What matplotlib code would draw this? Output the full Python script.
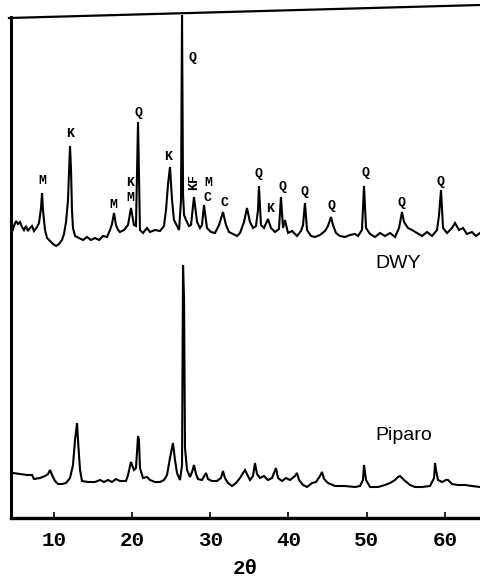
import matplotlib
matplotlib.use("Agg")
import matplotlib.pyplot as plt
from matplotlib.lines import Line2D

# ---- data (2-theta in degrees, intensity in arbitrary units) ----
dwy_2theta = [4.63, 4.88, 5.14, 5.40, 5.65, 5.91, 6.16, 6.42, 6.67, 6.93, 7.19, 7.44, 7.83, 8.08,
              8.34, 8.47, 8.59, 8.85, 9.11, 9.49, 9.88, 10.26, 10.64, 11.02, 11.28, 11.54, 11.79,
              12.05, 12.18, 12.30, 12.43, 12.69, 13.20, 13.71, 14.22, 14.73, 15.25, 15.76, 16.27,
              16.78, 17.17, 17.42, 17.68, 17.93, 18.19, 18.44, 18.96, 19.47, 19.85, 20.23, 20.49,
              20.75, 21.00, 21.39, 21.90, 22.28, 22.92, 23.56, 24.07, 24.33, 24.58, 24.84, 25.10,
              25.35, 25.74, 26.00, 26.25, 26.38, 26.51, 26.64, 26.89, 27.27, 27.53, 27.91, 28.30,
              28.68, 28.93, 29.19, 29.57, 30.09, 30.60, 31.11, 31.62, 32.00, 32.39, 32.90, 33.41,
              33.80, 34.31, 34.69, 35.07, 35.46, 35.84, 36.10, 36.22, 36.35, 36.48, 36.86, 37.38,
              37.76, 38.27, 38.78, 39.04, 39.30, 39.55, 39.94, 40.45, 41.09, 41.60, 41.86, 42.11,
              42.37, 42.88, 43.39, 44.03, 44.67, 45.05, 45.44, 45.69, 46.08, 46.59, 47.23, 47.87,
              48.51, 48.89, 49.40, 49.66, 49.92, 50.43, 51.07, 51.71, 52.35, 52.99, 53.63, 54.14,
              54.52, 54.78, 55.29, 55.80, 56.44, 57.08, 57.72, 58.36, 59.00, 59.26, 59.51, 59.77,
              60.28, 60.92, 61.30, 61.81, 62.32, 62.83, 63.47, 63.98, 64.50]
dwy_int = [286, 292, 297, 294, 296, 291, 288, 292, 287, 290, 292, 287, 291, 295,
           310, 325, 308, 288, 280, 277, 274, 272, 274, 278, 284, 296, 318,
           372, 348, 308, 290, 282, 280, 278, 281, 278, 280, 278, 282,
           281, 288, 294, 305, 293, 288, 286, 288, 293, 310, 293, 292,
           396, 288, 285, 290, 286, 288, 287, 292, 308, 333, 351, 318,
           298, 292, 288, 318, 503, 323, 303, 298, 292, 293, 321, 296,
           290, 293, 313, 290, 286, 285, 293, 306, 293, 286, 284, 282,
           285, 296, 310, 296, 290, 292, 308, 332, 313, 293, 290, 299,
           290, 286, 289, 321, 290, 298, 285, 287, 282, 287, 293, 315,
           288, 282, 281, 283, 287, 292, 301, 293, 285, 282, 281, 283,
           284, 282, 288, 332, 290, 284, 281, 285, 282, 285, 281, 290,
           306, 296, 290, 288, 285, 282, 286, 282, 288, 303, 328, 290,
           285, 290, 295, 288, 290, 284, 286, 282, 285]

piparo_2theta = [4.76, 5.65, 6.55, 7.19, 7.44, 8.21, 8.85, 9.24, 9.49, 9.75, 10.13, 10.52, 11.02,
                 11.54, 12.05, 12.43, 12.69, 12.95, 13.07, 13.33, 13.58, 14.35, 15.25, 15.89,
                 16.40, 16.91, 17.42, 17.93, 18.44, 19.21, 19.47, 19.85, 20.23, 20.49, 20.75,
                 20.87, 21.00, 21.39, 21.90, 22.28, 22.92, 23.56, 24.07, 24.46, 24.84, 25.22,
                 25.48, 25.74, 26.12, 26.38, 26.51, 26.64, 26.76, 27.02, 27.40, 27.66, 27.91,
                 28.17, 28.42, 28.93, 29.45, 29.70, 30.21, 30.85, 31.36, 31.62, 31.87, 32.26,
                 32.77, 33.28, 33.80, 34.43, 34.82, 35.07, 35.46, 35.71, 35.97, 36.35, 36.86,
                 37.38, 37.89, 38.40, 38.66, 39.17, 39.68, 40.19, 40.83, 41.09, 41.35, 41.86,
                 42.37, 43.01, 43.52, 44.03, 44.29, 44.55, 45.05, 45.95, 47.23, 48.51, 49.15,
                 49.53, 49.66, 49.92, 50.43, 51.45, 52.35, 52.99, 53.63, 54.01, 54.27, 54.78,
                 55.55, 56.19, 57.08, 58.11, 58.62, 58.75, 58.87, 59.13, 59.64, 60.15, 60.41,
                 60.92, 61.68, 62.58, 63.47, 64.50]
piparo_int = [45, 44, 43, 43, 39, 40, 42, 44, 48, 43, 37, 34, 34,
              35, 40, 53, 78, 95, 78, 48, 37, 36, 36, 38,
              36, 38, 36, 39, 37, 37, 43, 56, 48, 50, 82,
              78, 50, 40, 41, 38, 36, 36, 38, 43, 60, 75,
              58, 45, 38, 53, 253, 218, 70, 48, 41, 46, 53,
              44, 39, 38, 45, 39, 37, 37, 40, 47, 40, 35,
              32, 35, 40, 48, 42, 38, 42, 55, 44, 40, 42,
              38, 40, 50, 40, 37, 40, 38, 42, 45, 38, 33,
              31, 35, 36, 42, 46, 39, 35, 32, 32, 31, 32,
              38, 53, 38, 31, 31, 33, 35, 38, 41, 42, 38,
              33, 31, 31, 32, 40, 55, 48, 38, 36, 38, 38,
              34, 33, 33, 32, 31]

# phase labels on DWY pattern: (label, 2theta, intensity, rotation)
phase_labels = [("M", 8.47, 337, 0), ("K", 12.05, 384, 0), ("M", 17.55, 313, 0),
                ("K", 19.72, 335, 0), ("M", 19.72, 320, 0), ("Q", 20.75, 405, 0),
                ("K", 24.58, 361, 0), ("Q", 27.66, 460, 0), ("KF", 27.91, 336, 90),
                ("M", 29.70, 335, 0), ("C", 29.70, 320, 0), ("C", 31.75, 315, 0),
                ("Q", 36.22, 344, 0), ("K", 37.63, 309, 0), ("Q", 39.17, 331, 0),
                ("Q", 42.11, 326, 0), ("Q", 45.44, 312, 0), ("Q", 49.79, 345, 0),
                ("Q", 54.52, 315, 0), ("Q", 59.51, 336, 0)]

sample_names = [("DWY", 54.0, 255), ("Piparo", 54.8, 82)]
xticks = [10, 20, 30, 40, 50, 60]
xlabel = "2θ"

# ---- figure ----
W, H = 480, 585
fig = plt.figure(figsize=(W / 100, H / 100), dpi=100)
ax = fig.add_axes([11 / W, 67 / H, 469 / W, 501 / H])
ax.set_xlim(4.5, 64.5)
ax.set_ylim(0, 501)

ax.plot(dwy_2theta, dwy_int, color="black", lw=1.5, clip_on=False, solid_joinstyle="miter")
ax.plot(piparo_2theta, piparo_int, color="black", lw=1.5, solid_joinstyle="miter")

for s, x, y, rot in phase_labels:
    ax.text(x, y, s, ha="center", va="center", rotation=rot,
            fontfamily="Liberation Mono", fontweight="bold", fontsize=9.5)

for s, x, y in sample_names:
    ax.text(x, y, s, ha="center", va="center", fontfamily="Liberation Sans", fontsize=14)

ax.spines["top"].set_visible(False)
ax.spines["right"].set_visible(False)
ax.spines["left"].set_linewidth(2.2)
ax.spines["bottom"].set_linewidth(2.4)
ax.set_yticks([])
ax.set_xticks(xticks)
ax.set_xticklabels([str(t) for t in xticks], fontfamily="Liberation Mono",
                   fontweight="bold", fontsize=15)
ax.tick_params(axis="x", direction="in", length=4, width=1.2, pad=9)

# slightly slanted top frame line (as in the scanned original)
fig.add_artist(Line2D([9 / W, 1.0], [1 - 18 / H, 1 - 5 / H], transform=fig.transFigure,
                      color="black", lw=1.6))

fig.text(245 / W, 1 - 568 / H, xlabel, ha="center", va="center",
         fontfamily="Liberation Mono", fontweight="bold", fontsize=15)

fig.savefig("out.png", dpi=100)
